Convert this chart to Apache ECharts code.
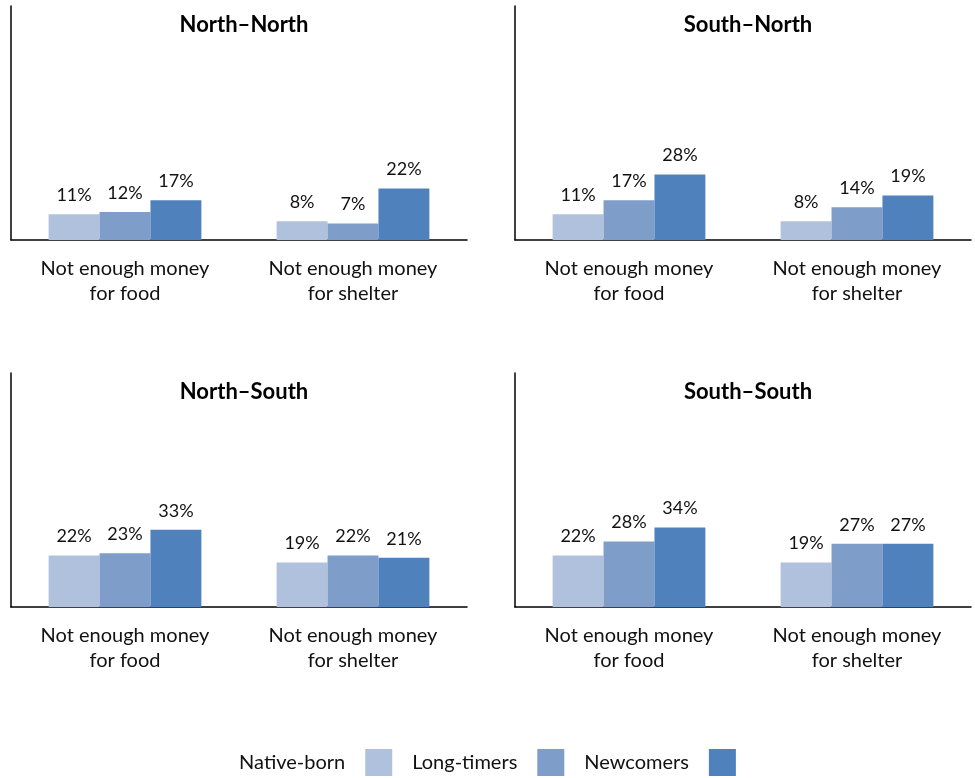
<!DOCTYPE html>
<html>
<head>
<meta charset="utf-8">
<script src="https://cdn.jsdelivr.net/npm/echarts@6/dist/echarts.min.js"></script>
<style>html,body{margin:0;padding:0;background:#fff}#c{width:975px;height:778px}</style>
</head>
<body>
<div id="c"></div>
<script>
const categories = ['Not enough money\nfor food', 'Not enough money\nfor shelter'];
const panelTitles = ['North\u2013North', 'South\u2013North', 'North\u2013South', 'South\u2013South'];
const seriesNames = ['Native-born', 'Long-timers', 'Newcomers'];
const nativeBorn = [[11, 8], [11, 8], [22, 19], [22, 19]];
const longTimers = [[12, 7], [17, 14], [23, 22], [28, 27]];
const newcomers  = [[17, 22], [28, 19], [33, 21], [34, 27]];

const colors = ['#B0C1DE', '#7E9DC9', '#4F81BD'];
const FONT = 'Lato';
const grids = [
  {left: 11, top: 6, width: 456, height: 234},
  {left: 515, top: 6, width: 456, height: 234},
  {left: 11, top: 373, width: 456, height: 234},
  {left: 515, top: 373, width: 456, height: 234}
];
const dataSets = [nativeBorn, longTimers, newcomers];

const option = {
  animation: false,
  backgroundColor: '#fff',
  color: colors,
  title: panelTitles.map((t, i) => ({
    text: t,
    left: grids[i].left + grids[i].width / 2,
    textAlign: 'center',
    top: grids[i].top + 3,
    textStyle: {fontFamily: FONT, fontWeight: 'bold', fontSize: 22, color: '#000'}
  })),
  legend: {
    data: seriesNames,
    left: 'center',
    top: 744,
    align: 'right',
    itemWidth: 27,
    itemHeight: 27,
    itemGap: 20,
    icon: 'rect',
    textStyle: {fontFamily: FONT, fontSize: 20, color: '#111', padding: [0, 15, 0, 0]}
  },
  grid: grids,
  xAxis: grids.map((g, i) => ({
    type: 'category',
    gridIndex: i,
    data: categories,
    axisLine: {show: true, lineStyle: {color: '#000', width: 1.5}},
    axisTick: {show: false},
    axisLabel: {fontFamily: FONT, fontSize: 20, color: '#111', margin: 16, lineHeight: 25}
  })),
  yAxis: grids.map((g, i) => ({
    type: 'value',
    gridIndex: i,
    min: 0,
    max: 100,
    axisLine: {show: true, lineStyle: {color: '#000', width: 1.5}},
    axisTick: {show: false},
    axisLabel: {show: false},
    splitLine: {show: false}
  })),
  series: []
};

for (let p = 0; p < 4; p++) {
  for (let s = 0; s < 3; s++) {
    option.series.push({
      type: 'bar',
      name: seriesNames[s],
      xAxisIndex: p,
      yAxisIndex: p,
      data: dataSets[s][p],
      barGap: '0%',
      barCategoryGap: '33%',
      itemStyle: {color: colors[s]},
      label: {
        show: true,
        position: 'top',
        distance: 10,
        formatter: '{c}%',
        fontFamily: FONT,
        fontSize: 18,
        color: '#111'
      }
    });
  }
}

const chart = echarts.init(document.getElementById('c'), null, {renderer: 'canvas'});
chart.setOption(option);
</script>
</body>
</html>
